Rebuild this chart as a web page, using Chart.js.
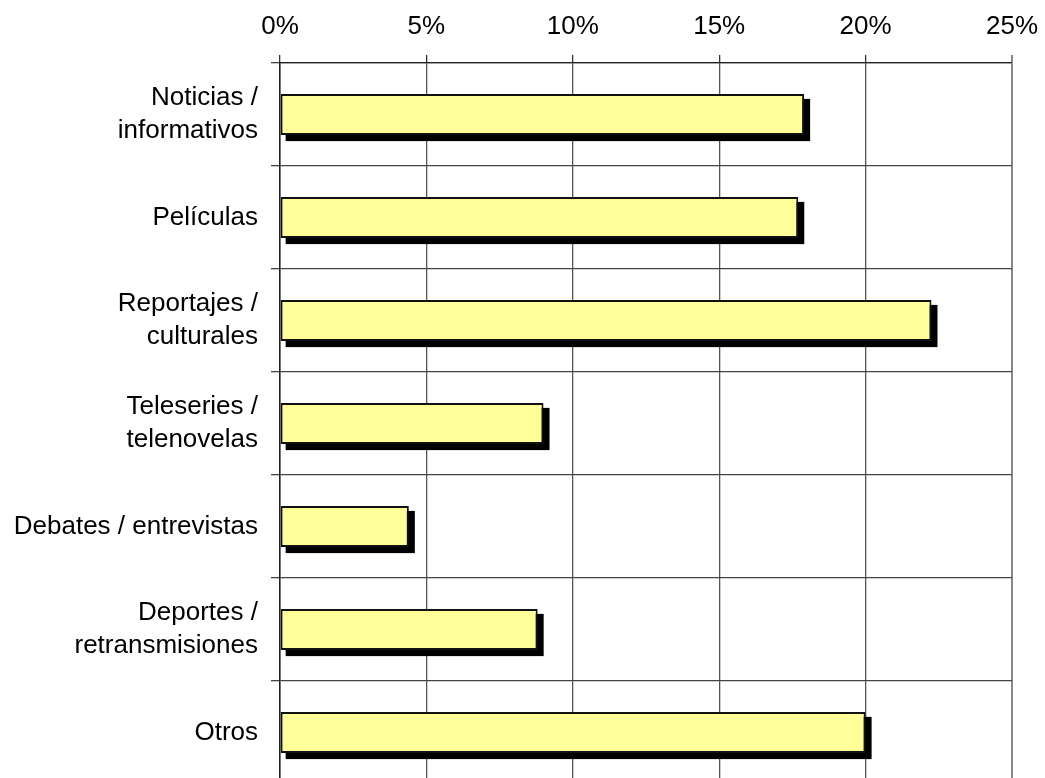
<!DOCTYPE html>
<html>
<head>
<meta charset="utf-8">
<script src="https://cdn.jsdelivr.net/npm/chart.js@4"></script>
<style>
html,body{margin:0;padding:0;background:#fff;overflow:hidden;}
#wrap{width:1045px;height:790px;}
</style>
</head>
<body>
<div id="wrap"><canvas id="c" width="1045" height="790"></canvas></div>
<script>
const categories = [
  ["Noticias /", "informativos"],
  "Películas",
  ["Reportajes /", "culturales"],
  ["Teleseries /", "telenovelas"],
  "Debates / entrevistas",
  ["Deportes /", "retransmisiones"],
  "Otros"
];
const values = [17.9, 17.7, 22.25, 9.0, 4.4, 8.8, 20.0];
const xTicks = [0, 5, 10, 15, 20, 25];

// Draws the black drop shadow behind each bar, using the bar elements laid out by Chart.js
const shadowPlugin = {
  id: 'barShadow',
  beforeDatasetDraw(chart, args) {
    const ctx = chart.ctx;
    const meta = args.meta;
    ctx.save();
    ctx.fillStyle = '#000';
    meta.data.forEach(el => {
      const p = el.getProps(['x', 'y', 'base', 'height'], true);
      const left = Math.min(p.x, p.base);
      const w = Math.abs(p.x - p.base);
      ctx.fillRect(left + 5, p.y - p.height / 2 + 5, w + 1, p.height + 1);
    });
    ctx.restore();
  }
};

new Chart(document.getElementById('c'), {
  type: 'bar',
  data: {
    labels: categories,
    datasets: [{
      data: values,
      backgroundColor: '#FFFF99',
      borderColor: '#111',
      borderWidth: 2,
      borderSkipped: false,
      categoryPercentage: 1,
      barPercentage: 0.4
    }]
  },
  plugins: [shadowPlugin],
  options: {
    indexAxis: 'y',
    responsive: false,
    animation: false,
    events: [],
    layout: { padding: { top: 0, right: 33, bottom: 6, left: 0 } },
    plugins: { legend: { display: false }, tooltip: { enabled: false } },
    scales: {
      x: {
        position: 'top',
        min: 0, max: 25,
        afterBuildTicks(scale) { scale.ticks = xTicks.map(v => ({ value: v })); },
        afterFit(scale) {
          scale.height = 63;
          scale.paddingLeft = 0;
          scale.paddingRight = 0;
        },
        ticks: {
          callback: v => v + '%',
          color: '#000',
          font: { family: 'Liberation Sans, Arial', size: 26 },
          padding: 13,
          maxRotation: 0
        },
        grid: {
          color: ctx => ctx.index === xTicks.length - 1 ? '#888' : '#555',
          lineWidth: ctx => ctx.index === xTicks.length - 1 ? 2 : 1.3,
          tickLength: 8,
          tickColor: ctx => ctx.index === xTicks.length - 1 ? '#888' : '#333'
        },
        border: { display: true, color: '#222', width: 1.3 }
      },
      y: {
        afterFit(scale) {
          scale.width = 280;
          scale.paddingTop = 0;
          scale.paddingBottom = 0;
        },
        ticks: {
          color: '#000',
          font: { family: 'Liberation Sans, Arial', size: 26, lineHeight: 1.27 },
          padding: 13
        },
        grid: {
          color: '#444',
          lineWidth: 1.3,
          tickLength: 9,
          offset: true
        },
        border: { display: true, color: '#222', width: 1.5 }
      }
    }
  }
});
</script>
</body>
</html>
